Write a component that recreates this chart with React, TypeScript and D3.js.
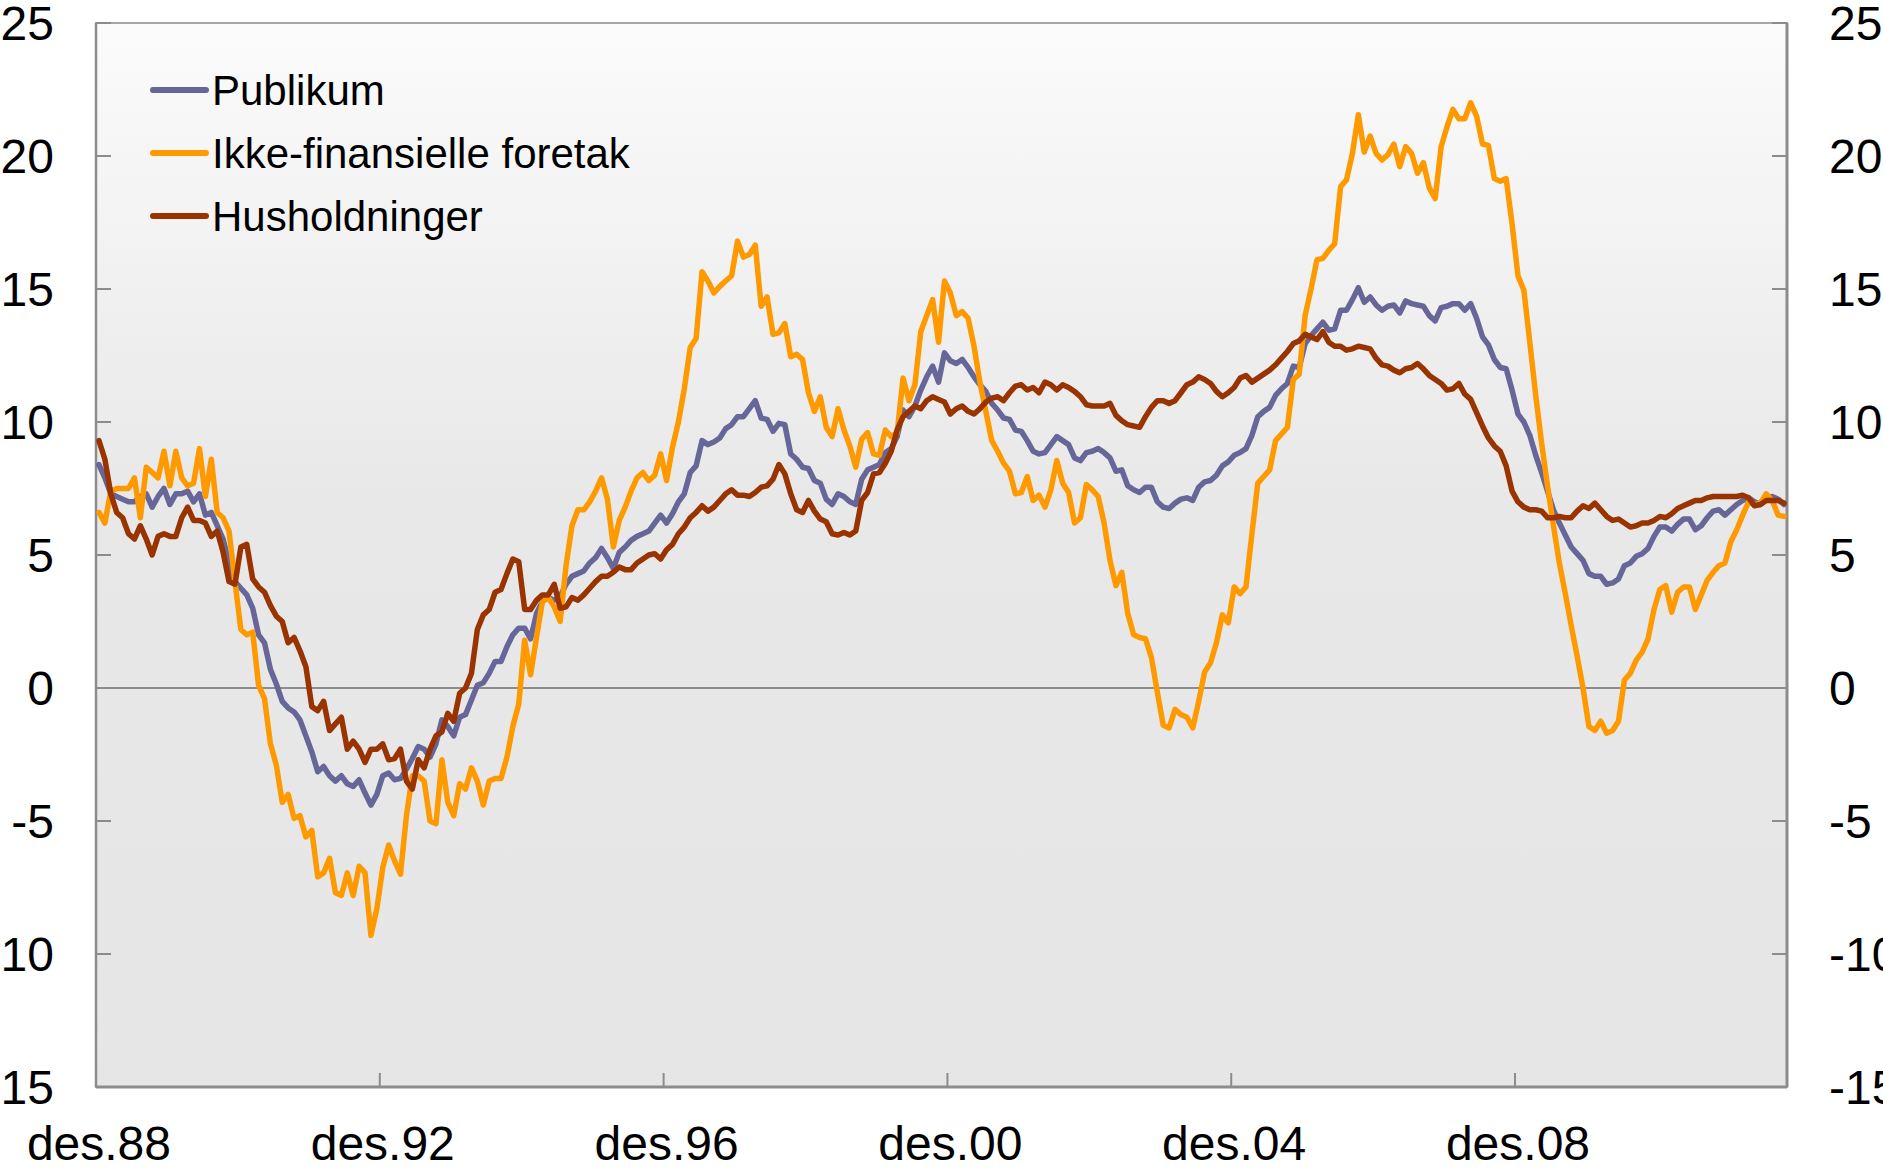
import * as d3 from "d3";

const totalWidth = 1883;
const totalHeight = 1175;
const plotLeft = 96;
const plotRight = 1787;
const plotTop = 23;
const plotBottom = 1087;

const seriesNames = ["Publikum", "Ikke-finansielle foretak", "Husholdninger"];
const seriesColors = ["#666699", "#ff9900", "#993300"];

// monthly values, des.88 -> sep.12 (one row per year, starting in december)
const publikum = [
  8.4, 7.9, 7.3, 7.2, 7.1, 7.0, 7.0, 7.2, 7.3, 6.8, 7.2, 7.5,
  6.9, 7.3, 7.3, 7.4, 7.0, 7.3, 6.5, 6.6, 6.1, 5.6, 4.7, 4.0,
  3.75, 3.5, 3.0, 2.0, 1.7, 0.7, 0.15, -0.5, -0.75, -0.9, -1.2, -1.8,
  -2.4, -3.15, -2.95, -3.3, -3.5, -3.3, -3.6, -3.7, -3.45, -3.95, -4.4, -4.0,
  -3.3, -3.2, -3.45, -3.4, -3.05, -2.65, -2.2, -2.3, -2.6, -2.1, -1.2, -1.45,
  -1.8, -1.1, -1.0, -0.45, 0.1, 0.2, 0.55, 1.0, 1.0, 1.55, 2.0, 2.25,
  2.25, 1.85, 2.8, 3.25, 3.4, 3.3, 3.45, 3.9, 4.2, 4.3, 4.4, 4.7,
  4.9, 5.25, 4.9, 4.5, 5.1, 5.3, 5.55, 5.7, 5.8, 5.9, 6.2, 6.5,
  6.2, 6.55, 7.0, 7.3, 8.1, 8.35, 9.3, 9.15, 9.25, 9.4, 9.75, 9.9,
  10.2, 10.2, 10.5, 10.8, 10.15, 10.1, 9.65, 9.95, 9.9, 8.8, 8.6, 8.3,
  8.25, 7.8, 7.7, 7.1, 6.9, 7.3, 7.2, 7.0, 6.9, 7.85, 8.2, 8.3,
  8.4, 8.85, 9.0, 9.45, 10.45, 10.2, 10.6, 11.2, 11.7, 12.1, 11.5, 12.6,
  12.3, 12.2, 12.35, 12.05, 11.7, 11.4, 11.15, 10.7, 10.45, 10.15, 10.1, 9.7,
  9.65, 9.3, 8.9, 8.8, 8.85, 9.15, 9.45, 9.3, 9.15, 8.65, 8.55, 8.85,
  8.9, 9.0, 8.85, 8.65, 8.15, 8.2, 7.6, 7.45, 7.35, 7.55, 7.55, 7.0,
  6.8, 6.75, 6.95, 7.1, 7.15, 7.05, 7.55, 7.75, 7.8, 8.0, 8.35, 8.5,
  8.75, 8.85, 9.0, 9.5, 10.2, 10.4, 10.55, 11.0, 11.25, 11.45, 12.1, 12.05,
  12.95, 13.25, 13.5, 13.75, 13.45, 13.5, 14.2, 14.2, 14.6, 15.05, 14.5, 14.7,
  14.4, 14.2, 14.35, 14.4, 14.1, 14.55, 14.45, 14.4, 14.35, 14.0, 13.8, 14.3,
  14.35, 14.45, 14.45, 14.2, 14.45, 13.9, 13.2, 12.9, 12.35, 12.05, 12.0, 11.2,
  10.3, 10.0, 9.5, 8.75, 8.1, 7.4, 6.7, 6.2, 5.75, 5.3, 5.05, 4.8,
  4.3, 4.2, 4.2, 3.9, 3.95, 4.1, 4.6, 4.7, 4.95, 5.05, 5.25, 5.7,
  6.05, 6.05, 5.9, 6.15, 6.35, 6.35, 5.95, 6.1, 6.4, 6.65, 6.7, 6.5,
  6.7, 6.9, 7.05, 7.15, 7.0, 6.9, 7.1, 7.2, 7.1, 6.9,
];

const ikkeFinansielle = [
  6.6, 6.2, 7.4, 7.5, 7.5, 7.5, 7.9, 6.4, 8.3, 8.1, 7.9, 8.9,
  7.6, 8.9, 7.9, 7.6, 7.7, 9.0, 7.2, 8.6, 6.6, 6.4, 5.9, 4.0,
  2.2, 2.0, 2.1, 0.1, -0.4, -2.1, -2.9, -4.3, -4.0, -4.9, -4.8, -5.6,
  -5.35, -7.1, -6.95, -6.4, -7.7, -7.8, -6.95, -7.8, -6.7, -6.95, -9.3, -8.3,
  -6.75, -5.9, -6.5, -7.0, -4.8, -3.3, -3.3, -3.5, -5.0, -5.1, -2.7, -4.3,
  -4.8, -3.6, -3.8, -3.0, -3.5, -4.4, -3.5, -3.4, -3.4, -2.6, -1.45, -0.6,
  1.8, 0.5, 1.9, 3.25, 3.4, 3.05, 2.5, 4.6, 6.1, 6.7, 6.7, 7.0,
  7.4, 7.9, 7.1, 5.3, 6.3, 6.8, 7.4, 7.9, 8.1, 7.8, 8.0, 8.8,
  7.8, 9.05, 10.0, 11.25, 12.8, 13.15, 15.65, 15.3, 14.85, 15.1, 15.3, 15.5,
  16.8, 16.2, 16.3, 16.65, 14.35, 14.7, 13.3, 13.35, 13.7, 12.45, 12.55, 12.35,
  11.1, 10.4, 10.95, 9.8, 9.45, 10.5, 9.7, 9.1, 8.3, 9.35, 9.6, 8.8,
  8.75, 9.7, 9.45, 9.6, 11.65, 10.8, 11.4, 13.4, 14.0, 14.6, 13.0, 15.3,
  14.85, 14.0, 14.15, 13.9, 12.85, 11.5, 10.4, 9.3, 8.9, 8.45, 8.15, 7.3,
  7.35, 7.95, 7.05, 7.25, 6.8, 7.45, 8.55, 7.7, 7.35, 6.2, 6.4, 7.65,
  7.45, 7.2, 6.2, 4.8, 3.85, 4.35, 2.8, 2.0, 1.9, 1.85, 1.15, -0.15,
  -1.4, -1.5, -0.8, -1.0, -1.1, -1.5, -0.5, 0.6, 0.95, 1.7, 2.75, 2.45,
  3.8, 3.55, 3.8, 5.8, 7.7, 7.95, 8.2, 9.3, 9.55, 9.8, 11.6, 11.8,
  14.0, 15.0, 16.1, 16.15, 16.45, 16.7, 18.85, 19.1, 20.1, 21.55, 20.15, 20.75,
  20.1, 19.85, 20.05, 20.45, 19.6, 20.35, 20.1, 19.35, 19.75, 18.8, 18.4, 20.35,
  21.1, 21.75, 21.4, 21.4, 22.0, 21.5, 20.45, 20.4, 19.15, 19.05, 19.15, 17.45,
  15.5, 14.95, 13.0, 11.0, 9.2, 7.6, 6.1, 4.7, 3.55, 2.35, 1.2, 0.0,
  -1.45, -1.6, -1.25, -1.7, -1.6, -1.25, 0.3, 0.55, 1.05, 1.35, 1.85, 2.95,
  3.7, 3.85, 2.85, 3.6, 3.8, 3.8, 2.95, 3.5, 4.05, 4.35, 4.6, 4.7,
  5.5, 5.95, 6.5, 7.0, 6.9, 6.95, 7.3, 7.05, 6.5, 6.45,
];

const husholdninger = [
  9.3, 8.6, 7.3, 6.6, 6.4, 5.8, 5.6, 6.1, 5.6, 5.0, 5.7, 5.8,
  5.7, 5.7, 6.4, 6.8, 6.3, 6.3, 6.2, 5.7, 5.9, 5.1, 4.0, 3.9,
  5.3, 5.4, 4.1, 3.8, 3.6, 3.1, 2.7, 2.5, 1.7, 1.9, 1.4, 0.8,
  -0.7, -0.85, -0.5, -1.6, -1.35, -1.1, -2.3, -2.0, -2.3, -2.8, -2.3, -2.3,
  -2.1, -2.7, -2.65, -2.3, -3.5, -3.8, -2.7, -3.0, -2.3, -1.8, -1.65, -0.95,
  -1.25, -0.2, 0.0, 0.55, 2.2, 2.75, 2.95, 3.6, 3.7, 4.3, 4.85, 4.75,
  2.95, 2.95, 3.3, 3.5, 3.5, 3.9, 3.0, 3.05, 3.4, 3.3, 3.5, 3.75,
  4.0, 4.2, 4.2, 4.35, 4.55, 4.45, 4.45, 4.7, 4.85, 5.0, 5.05, 4.85,
  5.2, 5.4, 5.8, 6.05, 6.4, 6.6, 6.85, 6.65, 6.8, 7.05, 7.3, 7.45,
  7.25, 7.25, 7.2, 7.35, 7.55, 7.6, 7.85, 8.4, 8.05, 7.3, 6.7, 6.6,
  7.05, 6.65, 6.35, 6.25, 5.8, 5.75, 5.85, 5.75, 5.9, 7.05, 7.35, 8.05,
  8.1, 8.45, 8.9, 9.7, 10.2, 10.4, 10.6, 10.5, 10.8, 10.95, 10.85, 10.75,
  10.3, 10.5, 10.6, 10.4, 10.3, 10.5, 10.75, 10.9, 10.95, 10.8, 11.1, 11.35,
  11.4, 11.2, 11.3, 11.1, 11.5, 11.4, 11.2, 11.4, 11.3, 11.15, 10.95, 10.65,
  10.6, 10.6, 10.6, 10.7, 10.25, 10.05, 9.9, 9.85, 9.8, 10.2, 10.55, 10.8,
  10.8, 10.7, 10.8, 11.1, 11.4, 11.5, 11.7, 11.6, 11.45, 11.15, 10.95, 11.1,
  11.3, 11.65, 11.75, 11.5, 11.65, 11.8, 11.95, 12.15, 12.4, 12.65, 12.95, 13.05,
  13.3, 13.2, 13.1, 13.4, 13.0, 12.85, 12.85, 12.7, 12.75, 12.85, 12.8, 12.75,
  12.4, 12.15, 12.1, 11.95, 11.85, 12.0, 12.05, 12.2, 12.0, 11.75, 11.6, 11.45,
  11.2, 11.25, 11.45, 11.05, 10.85, 10.35, 9.85, 9.4, 9.1, 8.9, 8.35, 7.4,
  7.0, 6.8, 6.7, 6.7, 6.65, 6.4, 6.4, 6.45, 6.4, 6.4, 6.65, 6.85,
  6.75, 6.95, 6.7, 6.45, 6.3, 6.35, 6.2, 6.05, 6.1, 6.2, 6.2, 6.3,
  6.45, 6.4, 6.55, 6.75, 6.85, 6.95, 7.05, 7.05, 7.15, 7.2, 7.2, 7.2,
  7.2, 7.2, 7.25, 7.15, 6.85, 6.9, 7.05, 7.05, 7.05, 6.95,
];

const yTicks = [25, 20, 15, 10, 5, 0, -5, -10, -15];
const xTickLabels = ["des.88", "des.92", "des.96", "des.00", "des.04", "des.08"];
const xTickMonths = [0, 48, 96, 144, 192, 240];

const fontFamily = "'Liberation Sans', Arial, Helvetica, sans-serif";

export default function App() {
  const series = [publikum, ikkeFinansielle, husholdninger];
  const months = d3.range(publikum.length);

  const xScale = d3
    .scaleBand<number>()
    .domain(months)
    .range([plotLeft, plotRight])
    .paddingInner(0)
    .paddingOuter(0);
  const yScale = d3.scaleLinear().domain([-15, 25]).range([plotBottom, plotTop]);
  const cx = (i: number) => (xScale(i) ?? 0) + xScale.bandwidth() / 2;

  const line = d3
    .line<number>()
    .x((_, i) => cx(i))
    .y((d) => yScale(d));

  return (
    <div style={{ position: "absolute", left: 0, top: 0 }}>
      <svg
        width={totalWidth}
        height={totalHeight}
        viewBox={`0 0 ${totalWidth} ${totalHeight}`}
        style={{ display: "block", background: "#ffffff" }}
        fontFamily={fontFamily}
      >
        <defs>
          <linearGradient id="plotBg" x1="0" y1="0" x2="0" y2="1">
            <stop offset="0%" stopColor="#fbfbfb" />
            <stop offset="45%" stopColor="#e8e8e8" />
            <stop offset="100%" stopColor="#e6e6e6" />
          </linearGradient>
        </defs>

        <rect
          x={plotLeft}
          y={plotTop}
          width={plotRight - plotLeft}
          height={plotBottom - plotTop}
          fill="url(#plotBg)"
          stroke="#a6a6a6"
          strokeWidth={2}
        />

        {/* zero line */}
        <line
          x1={plotLeft}
          x2={plotRight}
          y1={yScale(0)}
          y2={yScale(0)}
          stroke="#8c8c8c"
          strokeWidth={2}
        />

        {/* y ticks, both sides */}
        {yTicks.map((t) => (
          <g key={t}>
            <line
              x1={plotLeft}
              x2={plotLeft + 15}
              y1={yScale(t)}
              y2={yScale(t)}
              stroke="#8c8c8c"
              strokeWidth={2}
            />
            <line
              x1={plotRight - 15}
              x2={plotRight}
              y1={yScale(t)}
              y2={yScale(t)}
              stroke="#8c8c8c"
              strokeWidth={2}
            />
            <text
              x={54}
              y={yScale(t)}
              dy="0.35em"
              textAnchor="end"
              fontSize={48}
              fill="#000"
            >
              {t}
            </text>
            <text
              x={1829}
              y={yScale(t)}
              dy="0.35em"
              textAnchor="start"
              fontSize={48}
              fill="#000"
            >
              {t}
            </text>
          </g>
        ))}

        {/* x ticks */}
        {xTickMonths.map((m, k) => (
          <g key={m}>
            <line
              x1={xScale(m) ?? 0}
              x2={xScale(m) ?? 0}
              y1={plotBottom}
              y2={plotBottom - 14}
              stroke="#8c8c8c"
              strokeWidth={2}
            />
            <text
              x={cx(m)}
              y={1160}
              textAnchor="middle"
              fontSize={48}
              fill="#000"
            >
              {xTickLabels[k]}
            </text>
          </g>
        ))}

        {/* axis lines */}
        <line
          x1={plotLeft}
          x2={plotLeft}
          y1={plotTop}
          y2={plotBottom}
          stroke="#8c8c8c"
          strokeWidth={2.5}
        />
        <line
          x1={plotRight}
          x2={plotRight}
          y1={plotTop}
          y2={plotBottom}
          stroke="#8c8c8c"
          strokeWidth={3}
        />
        <line
          x1={plotLeft}
          x2={plotRight}
          y1={plotBottom}
          y2={plotBottom}
          stroke="#8c8c8c"
          strokeWidth={3}
        />

        {/* series */}
        {series.map((s, k) => (
          <path
            key={seriesNames[k]}
            d={line(s) ?? ""}
            fill="none"
            stroke={seriesColors[k]}
            strokeWidth={5.5}
            strokeLinejoin="round"
            strokeLinecap="round"
          />
        ))}

        {/* legend */}
        {seriesNames.map((name, k) => {
          const ly = 90 + k * 63;
          return (
            <g key={name}>
              <line
                x1={153}
                x2={206}
                y1={ly}
                y2={ly}
                stroke={seriesColors[k]}
                strokeWidth={6}
                strokeLinecap="round"
              />
              <text x={212} y={ly + 15} fontSize={42} fill="#000">
                {name}
              </text>
            </g>
          );
        })}
      </svg>
    </div>
  );
}
